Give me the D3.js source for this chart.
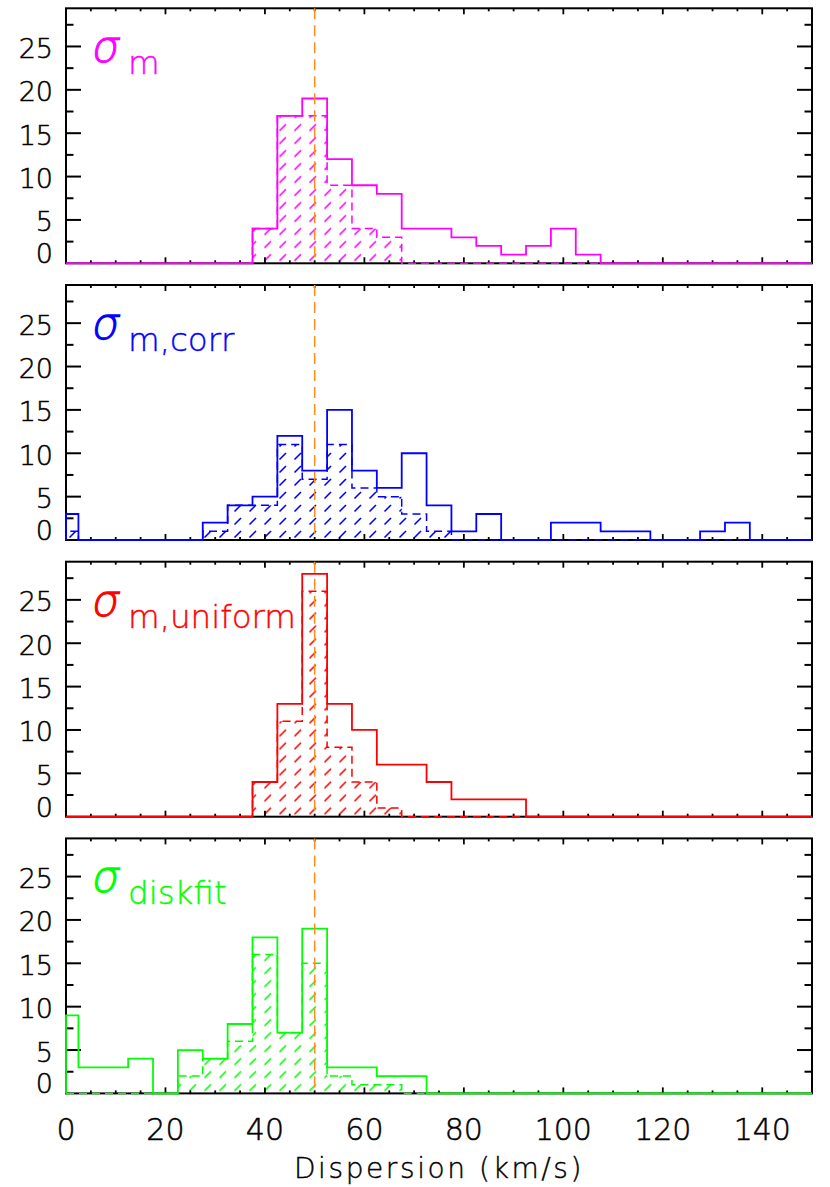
<!DOCTYPE html>
<html><head><meta charset="utf-8">
<script src="https://cdn.jsdelivr.net/npm/d3@7"></script>
<style>body{margin:0;background:#fff} text{font-family:"DejaVu Sans",sans-serif;font-weight:300}</style>
</head><body><svg id="c" width="830" height="1187"></svg>
<script>
// ---- data ----
const binCenters=[0,5,10,15,20,25,30,35,40,45,50,55,60,65,70,75,80,85,90,95,100,105,110,115,120,125,130,135,140,145,150];
const sigmaM_all     =[0,0,0,0,0,0,0,0,4,17,19,12,9,8,4,4,3,2,1,2,4,1,0,0,0,0,0,0,0,0,0];
const sigmaM_hatched =[0,0,0,0,0,0,0,0,4,17,17,9,4,3,0,0,0,0,0,0,0,0,0,0,0,0,0,0,0,0,0];
const sigmaCorr_all  =[3,0,0,0,0,0,2,4,5,12,8,15,8,6,10,4,1,3,0,0,2,2,1,1,0,0,1,2,0,0,0];
const sigmaCorr_hatched=[1,0,0,0,0,0,1,4,4,11,7,11,6,5,3,1,0,0,0,0,0,0,0,0,0,0,0,0,0,0,0];
const sigmaUni_all   =[0,0,0,0,0,0,0,0,4,13,28,13,10,6,6,4,2,2,2,0,0,0,0,0,0,0,0,0,0,0,0];
const sigmaUni_hatched=[0,0,0,0,0,0,0,0,4,11,26,8,4,1,0,0,0,0,0,0,0,0,0,0,0,0,0,0,0,0,0];
const sigmaDisk_all  =[9,3,3,4,0,5,4,8,18,7,19,3,3,2,2,0,0,0,0,0,0,0,0,0,0,0,0,0,0,0,0];
const sigmaDisk_hatched=[0,0,0,0,0,2,4,6,16,7,15,2,1,1,0,0,0,0,0,0,0,0,0,0,0,0,0,0,0,0,0];
const panelSubs=["m","m,corr","m,uniform","diskfit"];
const panelColors=["#ff00ff","#0000ff","#ff0000","#00ff00"];
const refLine=50;
const yTickValues=[0,5,10,15,20,25];
const xTickValues=[0,20,40,60,80,100,120,140];
const xTitle="Dispersion (km/s)";

const panels=[
 {all:sigmaM_all,hat:sigmaM_hatched},
 {all:sigmaCorr_all,hat:sigmaCorr_hatched},
 {all:sigmaUni_all,hat:sigmaUni_hatched},
 {all:sigmaDisk_all,hat:sigmaDisk_hatched}
];

// ---- layout ----
const svg=d3.select("#c");
const L=66,R=812,H=255,tops=[8.3,285,561.7,838.4];
const x=d3.scaleLinear().domain([0,150]).range([L,R]);
const binW=5;

function stepPoints(vals){
  const pts=[[0,0]];
  vals.forEach((v,i)=>{
    const c=binCenters[i];
    const x0=Math.max(0,c-binW/2), x1=Math.min(150,c+binW/2);
    pts.push([x0,v]); pts.push([x1,v]);
  });
  pts.push([150,0]);
  return pts;
}

const defs=svg.append("defs");

panels.forEach((p,pi)=>{
  const top=tops[pi], bot=top+H;
  const col=panelColors[pi];
  const y=d3.scaleLinear().domain([0,29.4]).range([bot,top]);
  const g=svg.append("g");

  // hatch pattern
  const pat=defs.append("pattern").attr("id","hatch"+pi).attr("patternUnits","userSpaceOnUse")
    .attr("width",15).attr("height",13).attr("x",L).attr("y",bot);
  pat.append("line").attr("x1",3.5).attr("y1",10.5).attr("x2",10).attr("y2",4)
    .attr("stroke",col).attr("stroke-width",1.6);

  const area=d3.area().x(d=>x(d[0])).y0(y(0)).y1(d=>y(d[1]));
  const line=d3.line().x(d=>x(d[0])).y(d=>y(d[1]));

  // hatched fill
  g.append("path").attr("d",area(stepPoints(p.hat))).attr("fill","url(#hatch"+pi+")");

  // frame
  g.append("rect").attr("x",L).attr("y",top).attr("width",R-L).attr("height",H)
    .attr("fill","none").attr("stroke","#000").attr("stroke-width",2);

  // y ticks
  const yMinor=d3.range(2.5,29.4,2.5);
  yMinor.forEach(v=>{
    const major=(v%5===0);
    const len=major?15:7.5;
    g.append("line").attr("x1",L).attr("x2",L+len).attr("y1",y(v)).attr("y2",y(v)).attr("stroke","#000").attr("stroke-width",2);
    g.append("line").attr("x1",R).attr("x2",R-len).attr("y1",y(v)).attr("y2",y(v)).attr("stroke","#000").attr("stroke-width",2);
  });
  // x ticks
  d3.range(5,150,5).forEach(v=>{
    const len=(v%20===0)?6:3;
    g.append("line").attr("x1",x(v)).attr("x2",x(v)).attr("y1",top).attr("y2",top+len).attr("stroke","#000").attr("stroke-width",1.8);
    g.append("line").attr("x1",x(v)).attr("x2",x(v)).attr("y1",bot).attr("y2",bot-len).attr("stroke","#000").attr("stroke-width",1.8);
  });
  // y labels
  yTickValues.forEach(v=>{
    g.append("text").attr("x",53).attr("y",v===0? y(0)-9.5 : y(v)+2)
      .attr("text-anchor","end").attr("dominant-baseline","central")
      .attr("font-size",27).attr("fill","#000").attr("stroke","#000").attr("stroke-width",0.5).text(v);
  });

  // hatched outline (dashed)
  g.append("path").attr("d",line(stepPoints(p.hat))).attr("fill","none")
    .attr("stroke",col).attr("stroke-width",1.5).attr("stroke-dasharray","8,5");
  // full outline
  g.append("path").attr("d",line(stepPoints(p.all))).attr("fill","none")
    .attr("stroke",col).attr("stroke-width",1.8);

  // reference line
  g.append("line").attr("x1",x(refLine)).attr("x2",x(refLine)).attr("y1",top).attr("y2",bot)
    .attr("stroke","#ff8c1a").attr("stroke-width",1.5).attr("stroke-dasharray","11,6");

  // label
  g.append("text").attr("transform",`translate(90,${top+54}) skewX(-10)`).attr("font-size",44)
    .attr("fill",col).attr("stroke",col).attr("stroke-width",1.1).text("σ");
  g.append("text").attr("x",128).attr("y",top+66).attr("font-size",32.5)
    .attr("fill",col).attr("stroke",col).attr("stroke-width",0.4).text(panelSubs[pi]);

  if(pi===3){
    xTickValues.forEach(v=>{
      svg.append("text").attr("x",x(v)).attr("y",1140).attr("text-anchor","middle")
        .attr("font-size",30).attr("fill","#000").attr("stroke","#000").attr("stroke-width",0.5).text(v);
    });
    svg.append("text").attr("x",x(75)).attr("y",1178).attr("text-anchor","middle")
      .attr("font-size",28).attr("letter-spacing",2.6).attr("fill","#000").attr("stroke","#000").attr("stroke-width",0.4).text(xTitle);
  }
});
</script></body></html>
